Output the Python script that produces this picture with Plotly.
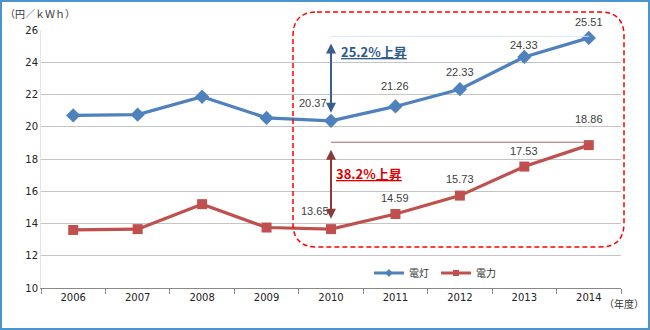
import plotly.graph_objects as go

years = ["2006", "2007", "2008", "2009", "2010", "2011", "2012", "2013", "2014"]
dento = [20.70, 20.75, 21.86, 20.55, 20.37, 21.26, 22.33, 24.33, 25.51]
denryoku = [13.60, 13.65, 15.20, 13.75, 13.65, 14.59, 15.73, 17.53, 18.86]
name_dento = "電灯"
name_denryoku = "電力"
labeled_from = 4  # data labels shown from 2010 onward
rise_dento = "25.2%上昇"
rise_denryoku = "38.2%上昇"

BLUE = "#4f81bd"
RED = "#c0504d"
W, H = 650, 330
L, R, T, B = 41, 29, 30, 42
PW, PH = W - L - R, H - T - B

xs = list(range(len(years)))


def px(x):
    return (x - L) / PW


def py(y):
    return (H - B - y) / PH


fig = go.Figure()
fig.add_trace(go.Scatter(x=xs, y=dento, name=name_dento, mode="lines+markers", showlegend=False,
                         line=dict(color=BLUE, width=3.2),
                         marker=dict(symbol="diamond", size=11, color=BLUE)))
fig.add_trace(go.Scatter(x=xs, y=denryoku, name=name_denryoku, mode="lines+markers", showlegend=False,
                         line=dict(color=RED, width=3.2),
                         marker=dict(symbol="square", size=10, color=RED)))
# legend entries with smaller symbols
fig.add_trace(go.Scatter(x=[None], y=[None], name=name_dento, mode="lines+markers",
                         line=dict(color=BLUE, width=3), marker=dict(symbol="diamond", size=6, color=BLUE)))
fig.add_trace(go.Scatter(x=[None], y=[None], name=name_denryoku, mode="lines+markers",
                         line=dict(color=RED, width=3), marker=dict(symbol="square", size=6, color=RED)))

ann = []
lab_font = dict(family="Liberation Sans, Arial", size=11, color="#404040")
shifts_b = [(-18, 18), (0, 20), (0, 17), (0, 12), (0, 16)]
shifts_r = [(-16, 18), (0, 16), (0, 17), (0, 16), (0, 26)]
for i, idx in enumerate(range(labeled_from, len(years))):
    ann.append(dict(x=xs[idx], y=dento[idx], text=f"{dento[idx]:.2f}", showarrow=False,
                    xshift=shifts_b[i][0], yshift=shifts_b[i][1], font=lab_font))
    ann.append(dict(x=xs[idx], y=denryoku[idx], text=f"{denryoku[idx]:.2f}", showarrow=False,
                    xshift=shifts_r[i][0], yshift=shifts_r[i][1], font=lab_font))

k = xs[labeled_from]
# double-headed arrows
ann.append(dict(x=k, y=dento[labeled_from] + 0.5, ax=k, ay=dento[-1] - 0.25,
                xref="x", yref="y", axref="x", ayref="y", showarrow=True, arrowhead=2,
                startarrowhead=2, arrowside="end+start", arrowsize=1, arrowwidth=2,
                arrowcolor="#3a5f8f", text=""))
ann.append(dict(x=k, y=denryoku[labeled_from] + 0.65, ax=k, ay=denryoku[-1] - 0.2,
                xref="x", yref="y", axref="x", ayref="y", showarrow=True, arrowhead=2,
                startarrowhead=2, arrowside="end+start", arrowsize=1, arrowwidth=2,
                arrowcolor="#8b3a3a", text=""))
ann.append(dict(x=px(339), y=py(51), xref="paper", yref="paper", xanchor="left", yanchor="middle",
                text=f"<b>{rise_dento}</b>", showarrow=False,
                font=dict(family="Noto Sans CJK JP", size=13, color="#2e5a8a", lineposition="under")))
ann.append(dict(x=px(334), y=py(173), xref="paper", yref="paper", xanchor="left", yanchor="middle",
                text=f"<b>{rise_denryoku}</b>", showarrow=False,
                font=dict(family="Noto Sans CJK JP", size=13, color="#e00000", lineposition="under")))

ann.append(dict(x=px(3), y=py(13), xref="paper", yref="paper", xanchor="left", yanchor="middle",
                text="（円／ｋＷｈ）", showarrow=False,
                font=dict(family="Noto Sans CJK JP", size=10, color="#333333")))
ann.append(dict(x=px(602), y=py(303), xref="paper", yref="paper", xanchor="left", yanchor="middle",
                text="（年度）", showarrow=False,
                font=dict(family="Noto Sans CJK JP", size=10, color="#333333")))

shapes = []
# outer border
shapes.append(dict(type="rect", xref="paper", yref="paper", x0=px(1), x1=px(649), y0=py(329), y1=py(1),
                   line=dict(color="#4a96cc", width=2), fillcolor="rgba(0,0,0,0)", layer="below"))
# reference horizontal lines
shapes.append(dict(type="line", xref="x", yref="y", x0=k, x1=xs[-1],
                   y0=dento[-1] + 0.1, y1=dento[-1] + 0.1, line=dict(color="#d6e6f5", width=1)))
shapes.append(dict(type="line", xref="x", yref="y", x0=k, x1=xs[-1],
                   y0=denryoku[-1] + 0.18, y1=denryoku[-1] + 0.18, line=dict(color="#a86a6a", width=1)))
# dashed rounded rectangle
x0, x1, y0, y1, r = 293, 624, 12, 247, 24
rx, ry = r / PW, r / PH
X0, X1, Y0, Y1 = px(x0), px(x1), py(y1), py(y0)
path = (f"M {X0+rx},{Y1} L {X1-rx},{Y1} Q {X1},{Y1} {X1},{Y1-ry} "
        f"L {X1},{Y0+ry} Q {X1},{Y0} {X1-rx},{Y0} "
        f"L {X0+rx},{Y0} Q {X0},{Y0} {X0},{Y0+ry} "
        f"L {X0},{Y1-ry} Q {X0},{Y1} {X0+rx},{Y1} Z")
shapes.append(dict(type="path", xref="paper", yref="paper", path=path,
                   line=dict(color="#ff0000", width=1.5, dash="5px,3px")))

fig.update_layout(
    width=W, height=H, margin=dict(l=L, r=R, t=T, b=B),
    paper_bgcolor="white", plot_bgcolor="white",
    font=dict(family="DejaVu Sans", size=10, color="#222222"),
    showlegend=True,
    legend=dict(orientation="h", x=px(369), y=py(273), xanchor="left", yanchor="middle",
                bgcolor="rgba(0,0,0,0)", font=dict(family="Noto Sans CJK JP", size=10, color="#333333"),
                itemwidth=30, entrywidth=22, entrywidthmode="pixels", tracegroupgap=0),
    xaxis=dict(range=[-0.5, len(years) - 0.5], tickmode="array", tickvals=xs, ticktext=years,
               ticks="", showline=True, linecolor="#888888", linewidth=1,
               showgrid=False, zeroline=False, tickfont=dict(size=10, color="#222222"), fixedrange=True,
               minor=dict(tickmode="array", tickvals=[v - 0.5 for v in xs] + [xs[-1] + 0.5],
                          ticks="outside", ticklen=5, tickcolor="#888888", showgrid=False)),
    yaxis=dict(range=[10, 26], dtick=2, showgrid=True, gridcolor="#c4c4c4", gridwidth=1,
               showline=True, linecolor="#e4e4e4", zeroline=False, ticks="",
               tickfont=dict(size=10, color="#222222"), fixedrange=True),
    annotations=ann, shapes=shapes,
)
fig.write_html("out.html")
